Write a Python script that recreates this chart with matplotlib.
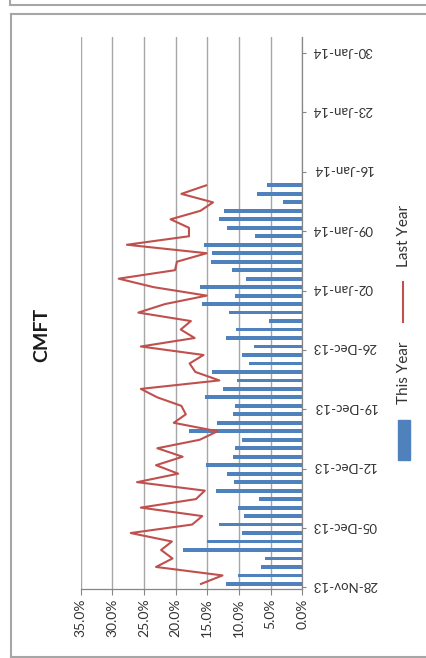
import numpy as np
import pandas as pd
import matplotlib
matplotlib.use("Agg")
import matplotlib.pyplot as plt
import matplotlib.dates as mdates
from matplotlib.patches import Rectangle
from matplotlib.lines import Line2D

plt.rcParams['font.family'] = ['Lato', 'DejaVu Sans']

# daily dates, 28-Nov-13 .. 14-Jan-14
days = pd.date_range("2013-11-28", "2014-01-14", freq="D")

this_year = [12.0, 10.1, 6.5, 5.9, 18.9, 15.1, 9.5, 13.1, 9.2, 10.2,
             6.9, 13.7, 10.8, 11.9, 15.2, 10.9, 10.6, 9.6, 17.9, 13.4,
             10.9, 10.7, 15.3, 12.5, 10.3, 14.3, 8.4, 9.6, 7.6, 12.0,
             10.5, 5.2, 11.5, 15.8, 10.7, 16.1, 8.9, 11.1, 14.4, 14.2,
             15.5, 7.4, 11.9, 13.1, 12.3, 3.1, 7.1, 5.5]

last_year = [16.0, 12.6, 23.1, 20.5, 22.3, 20.6, 27.1, 17.4, 15.8, 25.5,
             16.8, 15.4, 26.1, 19.6, 23.1, 18.9, 22.9, 16.2, 13.4, 20.3,
             18.4, 19.1, 22.9, 25.5, 13.1, 16.9, 17.8, 15.6, 25.5, 17.0,
             19.2, 17.6, 25.9, 21.7, 15.1, 23.5, 29.0, 20.1, 19.8, 15.1,
             27.7, 17.9, 17.9, 20.8, 16.1, 14.1, 19.1, 15.2]

tick_dates = pd.date_range("2013-11-28", "2014-01-30", freq="7D")
pct_ticks = [0, 5, 10, 15, 20, 25, 30, 35]

W, H = 427, 658
fig = plt.figure(figsize=(W / 100, H / 100), dpi=100)

# plot area in pixel coords of the picture
x0, x1 = 80.7, 302.3
y_top, y_bot = 37, 589
ax = fig.add_axes([x0 / W, 1 - y_bot / H, (x1 - x0) / W, (y_bot - y_top) / H])

blue = "#4f81bd"
red = "#c0504d"
grid_c = "#a6a6a6"

ax.barh(days, this_year, height=0.45, color=blue, zorder=2)
ax.plot(last_year, days, color=red, lw=1.5, zorder=3)

ax.set_xlim(35, 0)
ax.set_xticks(pct_ticks)
ax.set_xticklabels([f"{v:.1f}%" for v in pct_ticks], rotation=90)
ax.xaxis.grid(True, color=grid_c, lw=1.0, zorder=0)

d0 = mdates.date2num(days[0])
ax.set_ylim(d0 - 0.6, d0 + 64.5)
ax.set_yticks(tick_dates)
ax.yaxis.set_major_formatter(mdates.DateFormatter("%d-%b-%y"))
ax.set_yticks([mdates.date2num(t) - 0.4 for t in tick_dates], minor=True)
ax.yaxis.tick_right()
ax.tick_params(axis="y", which="major", length=0, pad=7, labelrotation=180,
               labelsize=9.5, labelcolor="#333333")
ax.tick_params(axis="y", which="minor", length=3, width=0.8, color="#868686",
               direction="out")
ax.tick_params(axis="x", length=4, width=0.8, color="#868686", direction="out",
               pad=3, labelsize=10, labelcolor="#333333")

for s in ["left", "top"]:
    ax.spines[s].set_visible(False)
for s in ["right", "bottom"]:
    ax.spines[s].set_color("#868686")
    ax.spines[s].set_linewidth(0.9)

# title
fig.text(42 / W, 1 - 335 / H, "CMFT", rotation=90, fontsize=14, fontweight="bold",
         ha="center", va="center", color="#1a1a1a")

# legend (rotated)
fig.patches.append(Rectangle((398 / W, 1 - 460 / H), 12 / W, 40 / H,
                             transform=fig.transFigure, color=blue))
fig.text(404 / W, 1 - 372.5 / H, "This Year", rotation=90, fontsize=11,
         ha="center", va="center", color="#333333")
fig.lines.append(Line2D([403.5 / W, 403.5 / W], [1 - 322 / H, 1 - 282 / H],
                        transform=fig.transFigure, color=red, lw=1.5))
fig.text(404 / W, 1 - 236 / H, "Last Year", rotation=90, fontsize=11,
         ha="center", va="center", color="#333333")

# chart frames
fc = "#a6a6a6"
for xs, ys in [([10.5, 427], [5.3, 5.3]), ([10.5, 10.5], [0, 5.3]),
               ([11, 427], [14, 14]), ([11, 11], [14, 656.7]),
               ([11, 427], [656.7, 656.7])]:
    fig.lines.append(Line2D([x / W for x in xs], [1 - y / H for y in ys],
                            transform=fig.transFigure, color=fc, lw=1.5))

fig.savefig("out.png", dpi=100)
